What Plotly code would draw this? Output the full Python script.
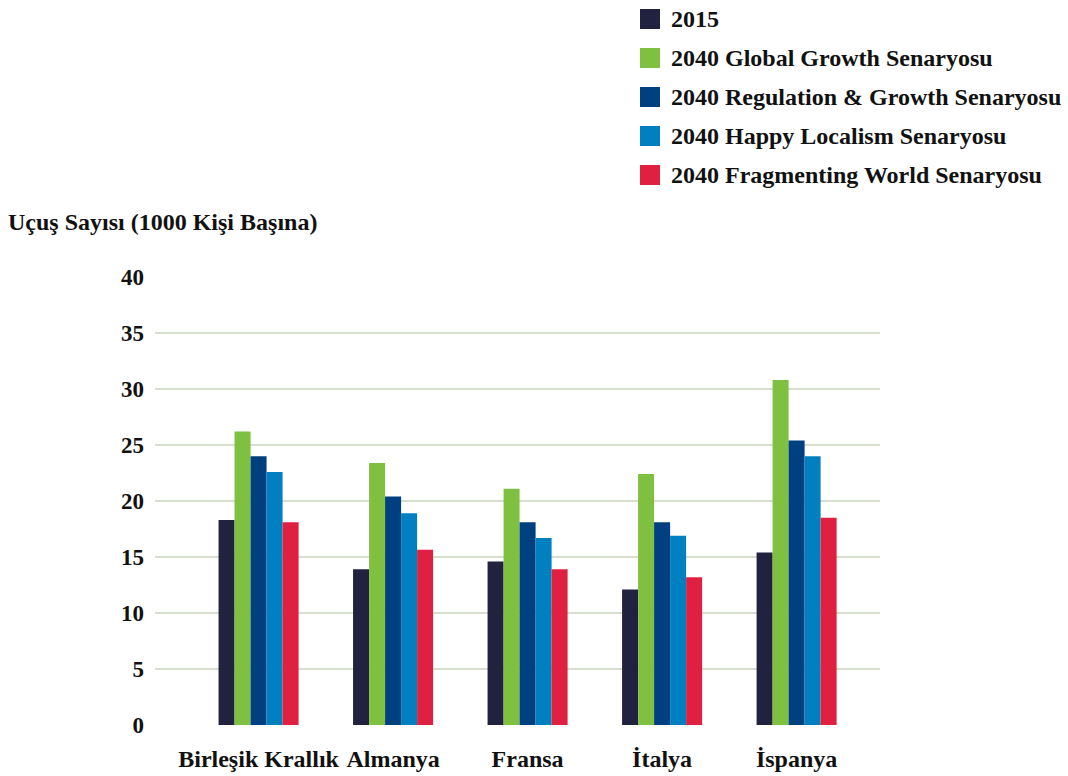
import plotly.graph_objects as go

countries = ["Birleşik Krallık", "Almanya", "Fransa", "İtalya", "İspanya"]
series_names = [
    "2015",
    "2040 Global Growth Senaryosu",
    "2040 Regulation & Growth Senaryosu",
    "2040 Happy Localism Senaryosu",
    "2040 Fragmenting World Senaryosu",
]
values_2015 = [18.3, 13.9, 14.6, 12.1, 15.4]
values_global = [26.2, 23.4, 21.1, 22.4, 30.8]
values_regulation = [24.0, 20.4, 18.1, 18.1, 25.4]
values_happy = [22.6, 18.9, 16.7, 16.9, 24.0]
values_fragmenting = [18.1, 15.65, 13.9, 13.2, 18.5]
colors = ["#212140", "#80c040", "#004080", "#0080c0", "#e02040"]
y_ticks = [0, 5, 10, 15, 20, 25, 30, 35, 40]
y_title = "Uçuş Sayısı (1000 Kişi Başına)"

all_values = [values_2015, values_global, values_regulation, values_happy, values_fragmenting]

FONT = "Liberation Serif"

fig = go.Figure()
for name, vals, col in zip(series_names, all_values, colors):
    fig.add_trace(go.Bar(
        x=countries, y=vals, name=name,
        marker=dict(color=col, line=dict(width=0)),
        showlegend=False,
    ))

# manual legend (large squares)
W, H = 1068, 776
PW = W - 155 - 188
PH = 725 - 277
legend_rows_y = [19, 58, 97, 136, 175]
for name, col, yc in zip(series_names, colors, legend_rows_y):
    fig.add_shape(type="rect", xref="paper", yref="paper",
                  x0=(640 - 155) / PW, x1=(660 - 155) / PW,
                  y0=(725 - (yc + 10)) / PH, y1=(725 - (yc - 10)) / PH,
                  fillcolor=col, line=dict(width=0))
    fig.add_annotation(xref="paper", yref="paper",
                       x=(669 - 155) / PW, y=(725 - yc) / PH,
                       xanchor="left", yanchor="middle", showarrow=False,
                       text="<b>" + name + "</b>",
                       font=dict(family=FONT, size=24, color="#111111"))

fig.add_annotation(xref="paper", yref="paper",
                   x=(6 - 155) / PW, y=(725 - 222) / PH,
                   xanchor="left", yanchor="middle", showarrow=False,
                   text="<b>" + y_title + "</b>",
                   font=dict(family=FONT, size=24, color="#111111"))

fig.update_layout(
    width=W, height=H,
    margin=dict(l=155, r=188, t=277, b=51),
    paper_bgcolor="white", plot_bgcolor="white",
    barmode="group", bargap=0.405, bargroupgap=0,
    font=dict(family=FONT, color="#111111"),
    xaxis=dict(
        range=[-0.77, 4.62], showgrid=False, zeroline=False, showline=False,
        tickfont=dict(family=FONT, size=24, weight="bold", color="#111111"),
        ticks="", ticklabelstandoff=17, automargin=False,
    ),
    yaxis=dict(
        range=[0, 40], tickvals=y_ticks, showgrid=True, gridcolor="#d6dfcf",
        gridwidth=1.5, zeroline=False, showline=False,
        tickfont=dict(family=FONT, size=23, weight="bold", color="#111111"),
        ticks="", ticklabelstandoff=10, automargin=False,
    ),
)

fig.write_html("out.html")
